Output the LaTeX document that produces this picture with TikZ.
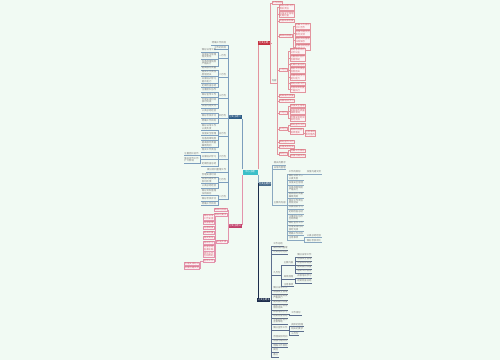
\documentclass[tikz,border=0pt]{standalone}
\usepackage{fontspec}
\newfontfamily\cjk{Noto Sans CJK SC}
\usetikzlibrary{positioning}

\definecolor{bgcol}{HTML}{F1FAF3}
\definecolor{rootcol}{HTML}{3CBFC8}
\definecolor{colA}{HTML}{C4303F}
\definecolor{lineA}{HTML}{E3949E}
\definecolor{colB}{HTML}{2E5C86}
\definecolor{lineB}{HTML}{7D9EBD}
\definecolor{colC}{HTML}{C2406A}
\definecolor{lineC}{HTML}{E393AC}
\definecolor{colD}{HTML}{4A6D8C}
\definecolor{lineD}{HTML}{8AA8C0}
\definecolor{colE}{HTML}{1D2D4C}
\definecolor{lineE}{HTML}{5D6F8E}
\definecolor{txt}{HTML}{7A7A7A}

\tikzset{
  tinytext/.style={font=\cjk\fontsize{1.35}{1.6}\selectfont},
  rootbox/.style={tinytext, fill=rootcol, text=white, minimum width=0.3cm, minimum height=0.1cm, inner sep=0.4pt},
  mainbox/.style={tinytext, fill=#1, text=white, minimum width=0.24cm, minimum height=0.06cm, inner sep=0.3pt},
  redleaf/.style={tinytext, draw=#1, line width=0.2pt, fill=#1!10!white, text=colA!75, align=left, inner sep=0.25pt},
  textleaf/.style={tinytext, text=txt, align=left, inner sep=0.25pt},
  conn/.style={draw=#1, line width=0.25pt},
}

\begin{document}
\begin{tikzpicture}[x=0.02cm, y=-0.02cm]
% canvas
\useasboundingbox (0,0) rectangle (500,360);
\fill[bgcol] (0,0) rectangle (500,360);

% centre and the five branches
\node[rootbox] (R) at (250,172) {中心主题};
\node[mainbox=colA, anchor=west] (A) at (258,43) {分支主题一};
\node[mainbox=colB, anchor=east] (B) at (242,117) {分支主题二};
\node[mainbox=colC, anchor=east] (C) at (242,226) {分支主题三};
\node[mainbox=colD, anchor=west] (D) at (258,184) {分支主题四};
\node[mainbox=colE, anchor=west] (E) at (257,300) {分支主题五};

\draw[conn=colE] (R.south east) |- (E.north west);
\draw[conn=lineD] (R.south east) |- (D.north west);
\draw[conn=lineA] (R.north east) |- (A.south west);
\draw[conn=lineB] (R.north west) |- (B.south east);
\draw[conn=lineC] (R.south west) |- (C.north east);

% branch A (top right)
\coordinate (sA) at (270,0);
\coordinate (sA2) at (277,0);
\node[redleaf=lineA, anchor=west] (a1) at (272,3) {工作目标};
\node[textleaf, anchor=west] (a2) at (271,81) {内容};
\draw[conn=lineA] (A.east) -- (sA |- A.east) |- (a1.west);
\draw[conn=lineA] (A.east) -- (sA |- A.east) |- (a2.south west) -- (a2.south east);
\foreach \yy/\txt [count=\i] in {7/{做好日常工作\\落实责任}, 14.5/{加强安全管理\\定期检查}, 21/{完善规章制度},
    36/{具体的措施}, 70/{一月份}, 96/{提高服务质量}, 101/{开展培训学习},
    113/{二月份}, 129/{三月份}, 142/{做好宣传工作}, 147/{合理安排时间}, 154/{四月份}} {
  \node[redleaf=lineA, anchor=west] (a2-\i) at (279,\yy) {\txt};
  \draw[conn=lineA] (a2.south east) -- (sA2 |- a2.south east) |- (a2-\i.west);
}
\coordinate (sA3) at (293.5,0);
\foreach \yy/\txt [count=\i] in {26/{明确工作目标\\分工合作}, 33/{加强沟通交流\\及时反馈}, 40/{做好资料整理\\归档保存}, 47/{认真总结经验\\查漏补缺}} {
  \node[redleaf=lineA, anchor=west] (a4-\i) at (295,\yy) {\txt};
  \draw[conn=lineA] (a2-4.east) -- (sA3 |- a2-4.east) |- (a4-\i.west);
}
\coordinate (sA4) at (288.5,0);
\foreach \yy/\txt [count=\i] in {51/{做好考核评比\\公平公正}, 58/{注重团队协作\\互相帮助}, 64.5/{定期检查总结},
    70/{落实工作责任\\层层把关}, 77/{开展培训学习\\提升能力}, 83.5/{做好日常工作}, 89/{完善规章制度\\严格执行}} {
  \node[redleaf=lineA, anchor=west] (a5-\i) at (290,\yy) {\txt};
  \draw[conn=lineA] (a2-5.east) -- (sA4 |- a2-5.east) |- (a5-\i.west);
}
\foreach \yy/\txt [count=\i] in {106/{加强安全管理}, 111.5/{提高服务质量\\细致周到}, 118.5/{合理安排时间\\按时完成}} {
  \node[redleaf=lineA, anchor=west] (a8-\i) at (290,\yy) {\txt};
  \draw[conn=lineA] (a2-8.east) -- (sA4 |- a2-8.east) |- (a8-\i.west);
}
\foreach \yy/\txt [count=\i] in {125/{做好宣传工作}, 131/{具体的措施\\逐项落实}} {
  \node[redleaf=lineA, anchor=west] (a9-\i) at (290,\yy) {\txt};
  \draw[conn=lineA] (a2-9.east) -- (sA4 |- a2-9.east) |- (a9-\i.west);
}
\coordinate (sA5) at (303.5,0);
\node[redleaf=lineA, anchor=west] (a9-2-1) at (305,133) {注意事项\\及时整改};
\draw[conn=lineA] (a9-2.east) -- (sA5 |- a9-2.east) |- (a9-2-1.west);
\foreach \yy/\txt [count=\i] in {150.5/{明确工作目标}, 156/{加强沟通交流}} {
  \node[redleaf=lineA, anchor=west] (a12-\i) at (290,\yy) {\txt};
  \draw[conn=lineA] (a2-12.east) -- (sA4 |- a2-12.east) |- (a12-\i.west);
}

% branch B (left, upper)
\coordinate (sB) at (228,0);
\coordinate (sB2) at (218,0);
\coordinate (sB3) at (200.5,0);
\foreach \yy/\txt [count=\i] in {43/{明确工作目标}, 47.5/{工作的目标}, 56/{一月份}, 75/{二月份}, 96/{三月份},
    116/{四月份}, 134/{五月份}, 157/{六月份}, 170/{做好资料整理工作}, 180/{七月份}, 197/{八月份}} {
  \node[textleaf, anchor=east] (b\i) at (227,\yy) {\txt};
  \draw[conn=lineB] (B.west) -- (sB |- B.west) |- (b\i.south east) -- (b\i.south west);
}
\foreach \yy/\txt [count=\i] in {50/{做好日常工作}, 55.5/{加强安全管理\\落实责任}, 62.5/{完善规章制度\\严格执行}} {
  \node[textleaf, anchor=east] (b3-\i) at (217,\yy) {\txt};
  \draw[conn=lineB] (b3.south west) -- (sB2 |- b3.south west) |- (b3-\i.south east) -- (b3-\i.south west);
}
\foreach \yy/\txt [count=\i] in {68/{提高服务质量}, 73/{落实工作责任\\层层把关}, 80/{开展培训学习\\提升能力}, 85.5/{定期检查总结}} {
  \node[textleaf, anchor=east] (b4-\i) at (217,\yy) {\txt};
  \draw[conn=lineB] (b4.south west) -- (sB2 |- b4.south west) |- (b4-\i.south east) -- (b4-\i.south west);
}
\foreach \yy/\txt [count=\i] in {90/{注重团队协作}, 95/{做好宣传工作}, 100.5/{合理安排时间\\按时完成}, 106/{加强沟通交流}} {
  \node[textleaf, anchor=east] (b5-\i) at (217,\yy) {\txt};
  \draw[conn=lineB] (b5.south west) -- (sB2 |- b5.south west) |- (b5-\i.south east) -- (b5-\i.south west);
}
\foreach \yy/\txt [count=\i] in {111/{认真总结经验}, 116/{做好考核评比}, 121/{明确工作目标}} {
  \node[textleaf, anchor=east] (b6-\i) at (217,\yy) {\txt};
  \draw[conn=lineB] (b6.south west) -- (sB2 |- b6.south west) |- (b6-\i.south east) -- (b6-\i.south west);
}
\foreach \yy/\txt [count=\i] in {127/{做好日常工作\\认真负责}, 133.5/{加强安全管理}, 138.5/{完善规章制度}, 144/{提高服务质量\\细致周到}} {
  \node[textleaf, anchor=east] (b7-\i) at (217,\yy) {\txt};
  \draw[conn=lineB] (b7.south west) -- (sB2 |- b7.south west) |- (b7-\i.south east) -- (b7-\i.south west);
}
\foreach \yy/\txt [count=\i] in {150/{落实工作责任}, 157/{开展培训学习}, 164/{定期检查总结}} {
  \node[textleaf, anchor=east] (b8-\i) at (217,\yy) {\txt};
  \draw[conn=lineB] (b8.south west) -- (sB2 |- b8.south west) |- (b8-\i.south east) -- (b8-\i.south west);
}
\foreach \yy/\txt [count=\i] in {153.5/{注重团队协作}, 159.5/{做好宣传工作\\扩大影响}} {
  \node[textleaf, anchor=east] (b8-2-\i) at (199.5,\yy) {\txt};
  \draw[conn=lineB] (b8-2.south west) -- (sB3 |- b8-2.south west) |- (b8-2-\i.south east) -- (b8-2-\i.south west);
}
\foreach \yy/\txt [count=\i] in {175/{合理安排时间}, 180/{加强沟通交流\\及时反馈}, 186/{认真总结经验}} {
  \node[textleaf, anchor=east] (b10-\i) at (217,\yy) {\txt};
  \draw[conn=lineB] (b10.south west) -- (sB2 |- b10.south west) |- (b10-\i.south east) -- (b10-\i.south west);
}
\foreach \yy/\txt [count=\i] in {192/{做好资料整理\\归档保存}, 199/{做好考核评比}, 203.5/{明确工作目标}} {
  \node[textleaf, anchor=east] (b11-\i) at (217,\yy) {\txt};
  \draw[conn=lineB] (b11.south west) -- (sB2 |- b11.south west) |- (b11-\i.south east) -- (b11-\i.south west);
}

% branch C (left, lower)
\coordinate (sC) at (228,0);
\coordinate (sC2) at (215,0);
\coordinate (sC3) at (200.5,0);
\foreach \yy/\txt [count=\i] in {210/{具体的措施}, 214.5/{相关的要求}, 242/{实施步骤}} {
  \node[redleaf=lineC, anchor=east] (c\i) at (227,\yy) {\txt};
  \draw[conn=lineC] (C.west) -- (sC |- C.west) |- (c\i.east);
}
\foreach \yy/\txt [count=\i] in {217/{做好日常\\工作安排}, 223/{加强管理}, 228/{完善制度}, 233/{提高质量}, 238/{落实责任},
    243/{培训学习}, 248/{检查总结\\查漏补缺}, 254.5/{团队协作\\互相帮助}, 261/{宣传工作}} {
  \node[redleaf=lineC, anchor=east] (c3-\i) at (214,\yy) {\txt};
  \draw[conn=lineC] (c3.west) -- (sC2 |- c3.west) |- (c3-\i.east);
}
\foreach \yy/\txt [count=\i] in {264/{合理安排时间}, 268/{加强沟通交流}} {
  \node[redleaf=lineC, anchor=east] (c3-9-\i) at (199.5,\yy) {\txt};
  \draw[conn=lineC] (c3-9.west) -- (sC3 |- c3-9.west) |- (c3-9-\i.east);
}

% branch D (right, middle)
\coordinate (sD) at (272,0);
\coordinate (sD2) at (287,0);
\coordinate (sD3) at (304.5,0);
\foreach \yy/\txt [count=\i] in {163/{相关的要求}, 167.5/{日常的管理}, 203/{主要的内容}} {
  \node[textleaf, anchor=west] (d\i) at (273,\yy) {\txt};
  \draw[conn=lineD] (D.east) -- (sD |- D.east) |- (d\i.south west) -- (d\i.south east);
}
\foreach \yy/\txt [count=\i] in {172/{工作的目标}, 177/{做好日常工作\\认真负责}, 183/{加强安全管理}, 188.5/{完善规章制度\\严格执行},
    195/{提高服务质量\\细致周到}, 201.5/{落实工作责任\\层层把关}, 207/{开展培训学习}, 212/{定期检查总结},
    217.5/{注重团队协作\\互相帮助}, 223/{做好宣传工作}, 228/{合理安排时间\\按时完成}, 233.5/{明确工作目标}, 238/{注意事项}} {
  \node[textleaf, anchor=west] (d3-\i) at (288,\yy) {\txt};
  \draw[conn=lineD] (d3.south east) -- (sD2 |- d3.south east) |- (d3-\i.south west) -- (d3-\i.south east);
}
\node[textleaf, anchor=west] (d3-1-1) at (306,172) {加强沟通交流};
\draw[conn=lineD] (d3-1.south east) -- (sD3 |- d3-1.south east) |- (d3-1-1.south west) -- (d3-1-1.south east);
\foreach \yy/\txt [count=\i] in {235.5/{认真总结经验}, 240.5/{做好考核评比}} {
  \node[textleaf, anchor=west] (d3-13-\i) at (306,\yy) {\txt};
  \draw[conn=lineD] (d3-13.south east) -- (sD3 |- d3-13.south east) |- (d3-13-\i.south west) -- (d3-13-\i.south east);
}

% branch E (right, bottom)
\coordinate (sE) at (271,0);
\coordinate (sE2) at (281.5,0);
\coordinate (sE3) at (295,0);
\coordinate (sE4) at (289,0);
\foreach \yy/\txt [count=\i] in {244/{工作总结}, 248/{做好资料整理}, 252/{认真总结经验}, 273/{九月份},
    288/{做好日常工作}, 292/{加强安全管理}, 296.5/{完善规章制度\\严格执行}, 302/{提高服务质量},
    306.5/{落实工作责任\\层层把关}, 312/{开展培训学习}, 316/{定期检查总结}, 320.5/{注重团队协作\\互相帮助},
    328/{做好宣传工作}, 337/{合理安排时间}, 341/{加强沟通交流}, 345.5/{明确工作目标}, 350/{其他}, 355/{备注}} {
  \node[textleaf, anchor=west] (e\i) at (272.5,\yy) {\txt};
  \draw[conn=lineE] (E.east) -- (sE |- E.east) |- (e\i.south west) -- (e\i.south east);
}
\foreach \yy/\txt [count=\i] in {263/{主要内容}, 277/{具体措施}, 284.5/{注意事项}} {
  \node[textleaf, anchor=west] (e4-\i) at (283,\yy) {\txt};
  \draw[conn=lineE] (e4.south east) -- (sE2 |- e4.south east) |- (e4-\i.south west) -- (e4-\i.south east);
}
\foreach \yy/\txt [count=\i] in {255/{做好日常工作}, 259/{加强安全管理}, 263/{完善规章制度}, 267/{提高服务质量}, 271/{落实工作责任}} {
  \node[textleaf, anchor=west] (e4-1-\i) at (296.5,\yy) {\txt};
  \draw[conn=lineE] (e4-1.south east) -- (sE3 |- e4-1.south east) |- (e4-1-\i.south west) -- (e4-1-\i.south east);
}
\foreach \yy/\txt [count=\i] in {276/{开展培训学习}, 281/{定期检查总结}} {
  \node[textleaf, anchor=west] (e4-2-\i) at (296.5,\yy) {\txt};
  \draw[conn=lineE] (e4-2.south east) -- (sE3 |- e4-2.south east) |- (e4-2-\i.south west) -- (e4-2-\i.south east);
}
\node[textleaf, anchor=west] (e10-1) at (290.5,313) {工作目标};
\draw[conn=lineE] (e10.south east) -- (sE4 |- e10.south east) |- (e10-1.south west) -- (e10-1.south east);
\foreach \yy/\txt [count=\i] in {324.5/{具体的措施}, 329/{相关的要求}, 333.5/{三月份}} {
  \node[textleaf, anchor=west] (e13-\i) at (290.5,\yy) {\txt};
  \draw[conn=lineE] (e13.south east) -- (sE4 |- e13.south east) |- (e13-\i.south west) -- (e13-\i.south east);
}
\end{tikzpicture}
\end{document}
